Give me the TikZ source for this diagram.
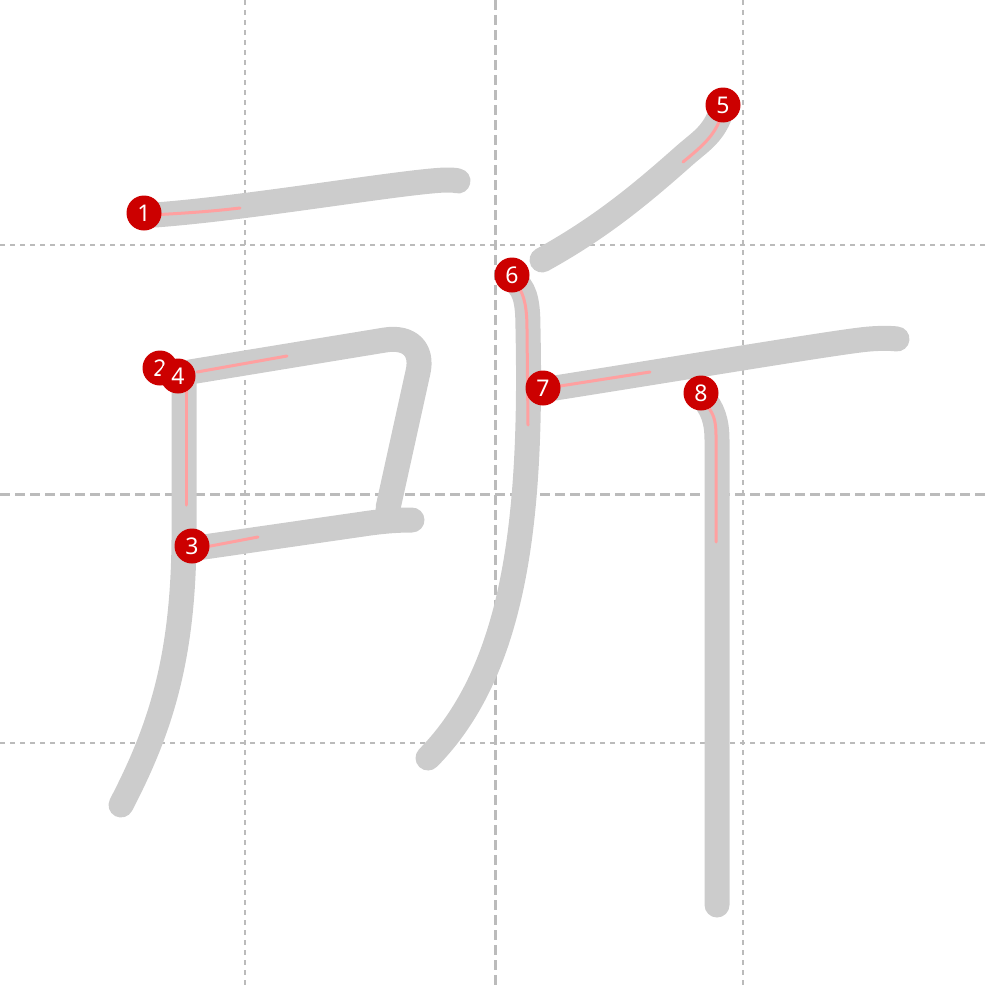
\documentclass[tikz,border=0pt]{standalone}
\usepackage{fontspec}
\setsansfont{Noto Sans}
\definecolor{strokegray}{HTML}{CCCCCC}
\definecolor{gridgray}{HTML}{BBBBBB}
\definecolor{guidered}{HTML}{FFA0A0}
\definecolor{markred}{HTML}{CC0000}
\tikzset{
  gridline/.style={gridgray, line width=2pt, dash pattern=on 5pt off 5pt},
  gridmain/.style={gridgray, line width=3pt, dash pattern=on 10pt off 5pt},
  kstroke/.style={strokegray, line width=25pt, line cap=round, line join=round},
  guide/.style={guidered, line width=3pt, line cap=round},
  marker/.style={circle, fill=markred, minimum size=35pt, inner sep=0pt, text=white, font=\sffamily\fontsize{23pt}{23pt}\selectfont}
}
\begin{document}
\begin{tikzpicture}[x=1pt,y=-1pt]
\useasboundingbox (0,0) rectangle (990,990);
% grid
\draw[gridline] (245,0) -- (245,990);
\draw[gridline] (743,0) -- (743,990);
\draw[gridline] (0,245) -- (990,245);
\draw[gridline] (0,743) -- (990,743);
\draw[gridmain] (495,0) -- (495,990);
\draw[gridmain] (0,494) -- (990,494);
% strokes
\draw[kstroke] (155,215) .. controls (250,208) and (400,182) .. (445,180) .. controls (450,180) and (455,180) .. (458,181);
\draw[kstroke] (184,380) -- (184,540) .. controls (183,660) and (160,730) .. (121,805);
\draw[kstroke] (197,548) -- (370,523) .. controls (385,521) and (398,520) .. (412,520);
\draw[kstroke] (190,372) -- (385,340) .. controls (410,336) and (423,350) .. (418,372) -- (388,508);
\draw[kstroke] (720,115) .. controls (712,135) and (700,142) .. (685,155) .. controls (640,195) and (600,228) .. (542,260);
\draw[kstroke] (517,283) .. controls (526,292) and (528,305) .. (528,330) .. controls (532,520) and (515,670) .. (428,758);
\draw[kstroke] (555,388) .. controls (700,365) and (820,345) .. (860,340) .. controls (875,338) and (890,338) .. (897,339);
\draw[kstroke] (703,398) .. controls (712,408) and (717,420) .. (717,440) -- (717,905);
% guides
\draw[guide] (150,215) .. controls (190,213) and (215,211) .. (240,208);
\draw[guide] (186,387) -- (186,505);
\draw[guide] (200,548) -- (258,537);
\draw[guide] (197,372) -- (287,356);
\draw[guide] (719,122) .. controls (712,138) and (700,148) .. (683,162);
\draw[guide] (517,285) .. controls (525,295) and (527,310) .. (527,330) -- (528,425);
\draw[guide] (560,386) -- (650,372);
\draw[guide] (706,405) .. controls (713,412) and (716,420) .. (716,435) -- (716,542);
% markers
\node[marker] (m1) at (144,213) {1};
\node[marker] (m2) at (160,368) {2};
\node[marker] (m3) at (192,546) {3};
\node[marker] (m4) at (178,376) {4};
\node[marker] (m5) at (723,105) {5};
\node[marker] (m6) at (512,275) {6};
\node[marker] (m7) at (543,388) {7};
\node[marker] (m8) at (701,393) {8};
\end{tikzpicture}
\end{document}
